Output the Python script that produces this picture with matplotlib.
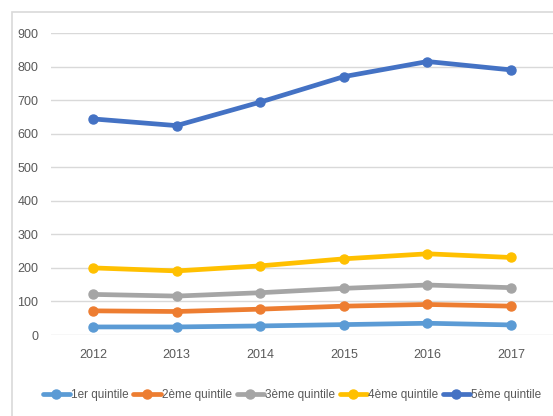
import matplotlib
matplotlib.use('Agg')
import matplotlib.pyplot as plt
from matplotlib.patches import Rectangle

years = ['2012', '2013', '2014', '2015', '2016', '2017']
q1 = [24, 24, 27, 31, 35, 30]
q2 = [72, 70, 77, 86, 91, 86]
q3 = [121, 116, 126, 139, 149, 141]
q4 = [200, 191, 206, 227, 242, 231]
q5 = [644, 624, 694, 770, 815, 790]

labels = ['1er quintile', '2ème quintile', '3ème quintile', '4ème quintile', '5ème quintile']
colors = ['#5B9BD5', '#ED7D31', '#A5A5A5', '#FFC000', '#4472C4']
series = [q1, q2, q3, q4, q5]

plt.rcParams['font.family'] = ['Liberation Sans', 'DejaVu Sans']

W, H = 553, 416
fig = plt.figure(figsize=(W / 100, H / 100), dpi=100)
fig.patch.set_facecolor('white')

# chart-area border (cut off at right and bottom like the screenshot)
fig.patches.append(Rectangle((12 / W, -0.05), 1.1, (H - 12) / H + 0.05,
                             transform=fig.transFigure, fill=False,
                             edgecolor='#d9d9d9', lw=1.2))

ax = fig.add_axes([51 / W, (H - 335) / H, (W - 51) / W, (335 - 33) / H])
x = list(range(len(years)))
handles = []
for vals, lab, c in zip(series, labels, colors):
    h, = ax.plot(x, vals, color=c, lw=3.4, marker='o', markersize=6.5,
                 solid_capstyle='round', label=lab, zorder=3)
    handles.append(h)

ax.set_xlim(-0.5, 5.5)
ax.set_ylim(0, 900)
ax.set_yticks(range(0, 1000, 100))
ax.set_xticks(x)
ax.set_xticklabels(years)
ax.grid(axis='y', color='#d9d9d9', lw=1)
ax.set_axisbelow(True)
for s in ax.spines.values():
    s.set_visible(False)
ax.tick_params(length=0, labelsize=9, colors='#595959', pad=10)
ax.tick_params(axis='y', pad=9)

fig.legend(handles, labels, loc='center', bbox_to_anchor=(0.528, (H - 395) / H),
           ncol=5, frameon=False, fontsize=8.5, labelcolor='#595959',
           handlelength=2.3, handletextpad=0.1, columnspacing=0.4,
           borderaxespad=0, borderpad=0)

fig.savefig('out.png', dpi=100)
